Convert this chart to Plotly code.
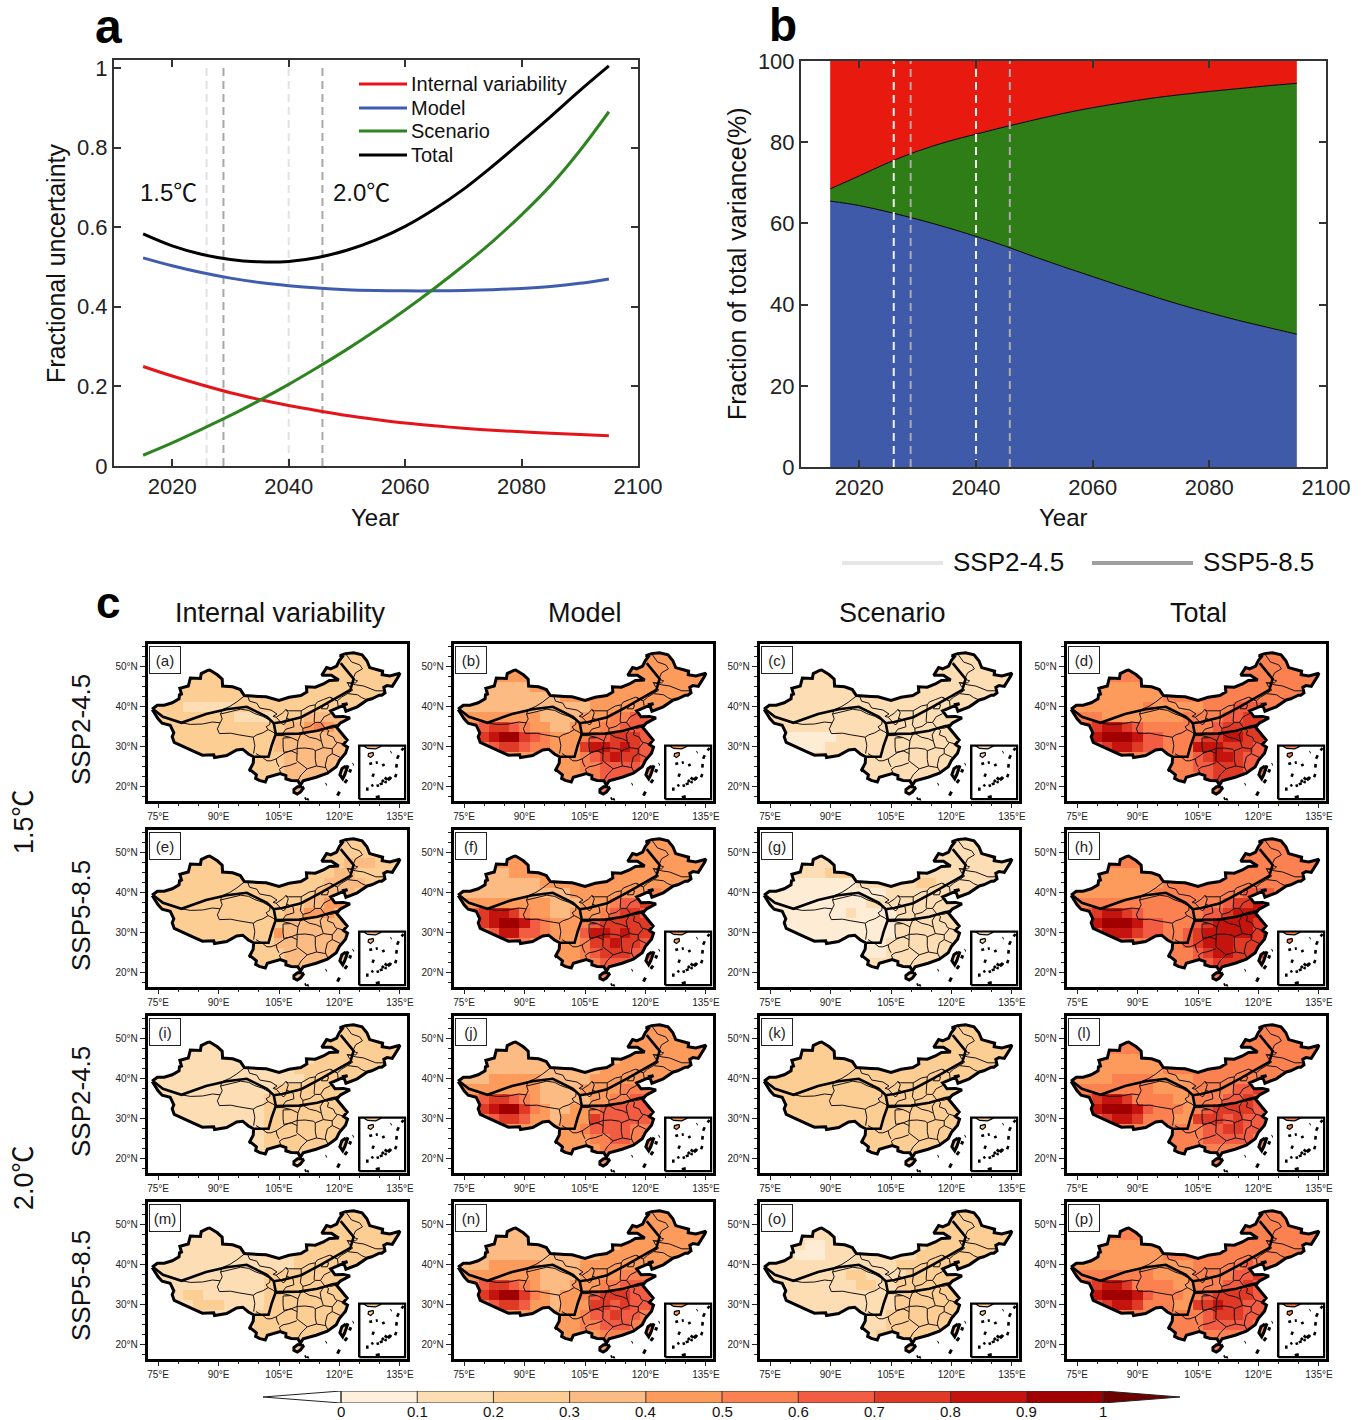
import numpy as np
import plotly.graph_objects as go

FONT = "Liberation Sans, Arial, Noto Sans CJK SC"
W, H = 1364, 1420

# ---------- panels a / b data ----------
YEARS = [2015, 2020, 2025, 2030, 2035, 2040, 2045, 2050, 2055, 2060, 2065, 2070, 2075, 2080, 2085, 2090, 2095]
INTERNAL = [.25, .226, .204, .184, .167, .152, .139, .127, .117, .108, .101, .095, .09, .086, .082, .079, .076]
MODEL = [.523, .503, .486, .472, .461, .453, .447, .443, .441, .44, .44, .441, .443, .446, .451, .459, .47]
SCENARIO = [.027, .058, .092, .127, .165, .205, .248, .293, .341, .392, .446, .503, .564, .631, .705, .792, .89]
TOTAL = [.583, .553, .532, .519, .513, .514, .524, .542, .568, .602, .645, .695, .753, .815, .878, .943, 1.005]
FRAC_MODEL = [65.5, 64.4, 62.8, 61, 59, 56.8, 54.4, 51.8, 49.3, 46.9, 44.5, 42.2, 40, 38, 36.1, 34.4, 32.7]
FRAC_MODEL_SCEN = [68.5, 71.7, 75, 77.8, 80.1, 82, 83.8, 85.5, 87.1, 88.5, 89.7, 90.8, 91.7, 92.5, 93.2, 93.9, 94.5]
FRAC_TOP = [100] * 17
CROSS_SSP245 = [2025.9, 2040.0]
CROSS_SSP585 = [2028.8, 2045.8]

# ---------- colour levels ----------
LEVELS = ['#FEECD4', '#FDDDB4', '#FDCE94', '#FDBB84', '#FC9B5C', '#FC8150', '#F25C42', '#DF3A25', '#C5130E', '#A00000']
CB_COLORS = ['#FEF0DA', '#FDDDB4', '#FDCE94', '#FDBB84', '#FC9B5C', '#FC8150', '#F25C42', '#DF3A25', '#C5130E', '#A00000']
CB_TICKS = [0, .1, .2, .3, .4, .5, .6, .7, .8, .9, 1]
CB_LABELS = ['0', '0.1', '0.2', '0.3', '0.4', '0.5', '0.6', '0.7', '0.8', '0.9', '1']

# ---------- map grids: one digit per 2.5 deg cell, digit d = level d/10..(d+1)/10 ----------
# rows north to south, lat 52.5 ... 20; columns lon 75 ... 135
P_a = """2222222222222222222222222 2222222222222222222222222 2222222222222222222222222 2222222222222222222222222
2222222222222222222222222 2221111122222222222222222 2222222211112223333222222 2222222222222334543222222
2222222222223333333222222 2222222222223333333222222 2222222222222333333222222 2222222222222333332222222
2222222222222333322222222 2222222222223333333222222""".split()
P_b = """4444444444444444444444444 4444444444444444444444444 4444444444444444444444444 4443333444444444444444444
3333333333444444444444444 3333333333333444444444444 4444444433334445566554444 4567765443344455666655555
5578997654445667776655555 4456776554447887876654444 4444444444445678776654444 4444444444445566665544444
4444444444444566654444444 4444444444444455444444444""".split()
P_c = """1111111111111111111111111 1111111111111111111111111 1111111111111111111111111 1111111111111111111111111
1111111111111111111111111 1111111111111111111111111 1111111111111111111111111 1111111111111111111111111
1100000111111111111111111 1100001111111111111111111 1111111111111111111111111 1111111111111111111111111
1111111111111111111111111 1111111111111111111111111""".split()
P_d = """5555555555555555555555555 5555555555555555555555555 5555555555555555555555555 4444444445555555555555555
4444444445555555555555555 4444444544444555666555555 5554444444455556677665555 5678876555555567777766555
6689998665556778877665555 5567887665558887776655555 4555555555556788766655555 5555555555556677766655555
5555555555555677765555555 5555555555555555555555555""".split()
P_e = """2222222222222222222222222 2222222222222222222222222 2222222222222222222333222 2222222222222222223322222
2222222222222222233332222 2222222222222222333322222 2222222222222223344322222 2222222222222334443222222
2222222222222333333222222 2222222222224333333322222 2222222222223333333222222 2222222222222333333222222
2222222222222333332222222 2222222222222333332222222""".split()
P_f = """4444444444444444444444444 4444444444444444444444444 4444444444444444444444444 4433344444444444444444444
3333333344444444444444444 3333333333344444444544444 4444444443334445667665544 4678875443344456776665544
5578998654445677777665544 4456886654446887877765544 4444555444445778776654444 4444444444445677766544444
4444444444445566655444444 4444444444444455444444444""".split()
P_g = """1111111111111111111111111 1111111111111111111111111 1111111111111111111111111 0001112221111111111111111
0000000001111112211111111 0000000000001111111111111 0000000000111111111111111 0000000010000111111111111
0000000000000111111111111 0000000000000111111111111 0000000000001111111111111 0000000000001111111111111
1111111111111111111111111 1111111111111111111111111""".split()
P_h = """5555555555555555555555555 5555555555555555555555555 5555555555555555555555555 4444444445555555555555555
4444444445555555555555555 4444444455555555566655555 5555555555555556778765555 5678876555555667888776555
6789998665556788887776555 5568887665567888887876555 5556665555567888777665555 5555555555556788777665555
5555555555556677765555555 5555555555555555555555555""".split()
P_i = """1111111111111111222222222 1111111111111111222222222 1111111111111111222222222 1111111111111111222222222
1111111111111122222222222 1111111111111112222222222 1111111111112222222222222 1111111111122222222222222
1111111111122222222222222 1111111111122222222222222 1111111111122222222222222 1111111111122222222222222
1111111111122222222222222 1111111111122222222222222""".split()
P_j = """3333333333333333344444444 3333333333333333344444444 3333333333333333344444444 3333333333333333444444444
3333333333333344444444444 3334444433333444444444444 4444444433334444555544444 4567765433333445566554444
5578997543344566666554444 4456776443444766666554444 4444444444445666655544444 4444444444444556655444444
4444444444444455544444444 4444444444444444444444444""".split()
P_k = """2222222222222222222222222 2222222222222222222222222 2222222222222222222222222 2222222222222222222222222
2222222222222222222222222 2222222222222222222222222 2222222222222222222222222 2222222222222222222222222
2222222222222222222222222 2222222222222222222222222 2222222222222222222222222 2222222222222222222222222
2222222222222222222222222 2222222222222222222222222""".split()
P_l = """5555555555555555555555555 5555555555555555555555555 5555555555555555555555555 4444444445555555555555555
4444444445555555555555555 4444555544445555555555555 5555555544445555667655555 5678875555445556676665555
6689998655545677776655555 5567887555447776766655555 5555555555555667766655555 5555555555555666665555555
5555555555555555555555555 5555555555555555555555555""".split()
P_m = """1111111111111111222222222 1111111111111111222222222 1111111111111111222222222 1111111111111111222222222
1111111111111122222222222 1111111111111122222222222 1111111111122222222222222 1111111111122222222222222
1112211111122222222222222 1111222111122222222222222 1111111111222222222222222 1111111111222222222222222
1111111111222222222222222 1111111111222222222222222""".split()
P_n = """3333333333333333344444444 3333333333333333344444444 3333333333333333344444444 3333333333333333444444444
3333333333333344444444444 3334444433334444444444444 4444444433334444555544444 4567765433344455666654444
5578997543445677766554444 4456776443444776766654444 4444444444445667665544444 4444444444445566655444444
4444444444444455544444444 4444444444444444444444444""".split()
P_o = """1111111111111111222222222 1111111111111111222222222 1111111111111111222222222 1111001111111111222222222
1110001111111112222222222 1111111111111222222222222 1111111122111122222222222 1111111112211222222222222
1111111111111222222222222 1111111111111222222222222 1111111111112222222222222 1111111111112222222222222
1111111111122222222222222 1111111111122222222222222""".split()
P_p = """5555555555555555555555555 5555555555555555555555555 5555555555555555555555555 4444444445555555555555555
4444444445555555555555555 4444444444445555565555555 5555555544445555667655555 5678875555445556676665555
6689998655545677776655555 5567887555447787766655555 5555555555555677766655555 5555555555555666665555555
5555555555555555555555555 5555555555555555555555555""".split()

LON_EDGES = [73.0] + [76.25 + 2.5 * k for k in range(24)] + [136.5]
LAT_EDGES = [17.8] + [21.25 + 2.5 * k for k in range(13)] + [54.2]

# ---------- geography (lon, lat) ----------
CHINA = [(73.5,39.4),(74.8,40.4),(76.5,40.4),(78.5,41),(80.2,42),(80.3,43),(80.8,43.2),(80.4,44.6),(82.5,45.2),(83,47.2),(85.5,47.1),
(85.7,48.3),(87.3,49.1),(87.8,49.2),(89.7,48),(90.9,46.9),(91,45.2),(93.5,45),(95.4,44.3),(96.4,42.8),(100,42.6),(101.8,42.5),(105,41.6),
(107.5,42.4),(110.4,42.8),(111.9,43.7),(111.8,45),(114,44.9),(116,45.7),(117.5,46.6),(119.8,46.7),(118,47.9),(115.6,47.9),(116.8,49.8),
(117.8,49.5),(119.3,50.2),(120,51.6),(120.7,52.5),(120.1,52.8),(121.5,53.3),(123.5,53.5),(125.6,53),(126.8,51.5),(127.5,49.8),(130.7,48.9),
(130.6,48),(132.5,47.7),(135,48.4),(134.7,47.7),(133.9,46.3),(133.1,45.1),(131.8,45.3),(131,44.9),(131.3,43.5),(130.5,42.9),(129.9,42.9),
(128,42),(126.9,41.7),(124.4,40),(121.6,38.9),(121,40.6),(122,40.8),(119.5,39.8),(117.8,39),(118.9,37.5),(121,37.6),(122.6,37.2),(120.3,36),
(119.2,35),(120.5,33.5),(121.9,31.7),(121,30.6),(122,29.9),(121.5,28.4),(120,26.6),(119.2,25),(117,23.4),(114.2,22.4),(111,21.5),(110.3,20.4),
(109.7,21.5),(108,21.6),(106.7,22),(106.7,22.8),(105.3,23.3),(102.1,22.4),(101.6,21.2),(100.1,21.6),(99.2,22.1),(99.4,23),(98,24.1),(97.6,24),
(98.6,25.9),(98.7,27.5),(97.4,28.2),(96,29.4),(94.5,29.2),(92,27.8),(89,27.3),(88.8,28),(86,27.9),(84,28.8),(81.2,30.1),(79,31.1),(78.5,32.5),
(78.9,33.5),(78,35.4),(76,35.9),(75,37),(74,38.5),(73.5,39.4)]
HAINAN = [(110.7,20.1),(111,19.6),(110.3,18.7),(109.5,18.2),(108.7,18.6),(108.7,19.3),(109.6,20),(110.7,20.1)]
TAIWAN = [(121.6,25.2),(122,25),(121.3,23),(120.8,22),(120.1,23),(120.6,24.5),(121.6,25.2)]
THICK = [
 [(73.8,39.4),(76.2,37.5),(80.8,36),(86.9,38.2),(92,39.4),(97,40),(102,37.5),(103.7,35.9),(105.8,36.2),(110.5,37.4),(115.3,40),(122.7,44.2),(123.5,47),(120.3,50.9)],
 [(103.7,35.9),(104.2,33.2),(103.2,30.4),(102.4,27.5),(99,27.5)],
 [(104.2,33.2),(110,33.3),(114.5,34),(118.5,35.2),(120,35.4)],
]
PROV = [
 [(96.4,42.7),(94.5,41.2),(92.8,40.1),(90.9,39.3),(90.5,38.2),(90.9,37),(90.4,36)],
 [(80.8,36),(83,35.6),(86,35.7),(88.5,36.2),(90.4,36)],
 [(90.4,36),(89.7,34.5),(90.2,33.3),(93,33.4),(95,33),(97,32.6),(98.6,32.4),(99,30.3),(98.7,28.3)],
 [(90.5,38.2),(93,38.8),(95.5,39.4),(97.5,39.1),(99,38.3),(101,37.6),(102.8,36.6),(102.7,35.6),(101.8,35),(102.3,34.3),(101,33.5),(99.5,33),(98.6,32.4)],
 [(97.2,42.7),(97.7,41.4),(99.5,40.9),(100.2,39.7),(103,39.2),(104.5,38.2),(103.5,37.6),(104.3,37.4)],
 [(104.3,37.4),(105.8,38.4),(106.7,39.3),(107.3,38.5),(106.9,37.2),(106.5,35.8),(106,35.5),(105.4,36.2),(104.3,37.4)],
 [(106.9,37.2),(108.5,36.4),(108.7,35),(106.7,34.4),(105.7,33),(104.4,32.8)],
 [(102.3,34.3),(103.5,33.7),(104.4,32.8)],
 [(106.7,39.3),(107.3,39),(110.5,39),(111.3,39.5),(112.5,40.2),(114,40.5),(114.5,41.2),(116,41.8),(117.5,42.4),(119.5,41.5),(120.5,42.4),(122,43.3),(123.3,44.2),(122.5,45),(122,46),(124,46),(124.5,46.5),(123.3,46.9),(124,48.5),(125.7,49.5),(125,50.5),(123,51.2),(122.3,52.3),(121.5,53.3)],
 [(121.8,46.1),(124,45.5),(126,45.2),(127.5,44.6),(129,44),(131,44)],
 [(122,43.3),(124.5,43),(125.5,42.3),(126.9,41.7)],
 [(117.8,42.4),(119.5,41.4),(119.7,39.9)],
 [(110.5,39),(110.5,37),(110.3,35.5),(110.9,34.6)],
 [(114,40.5),(113.8,38.5),(113.6,37),(113.7,36.3),(114,36.1)],
 [(110.9,34.6),(112.7,35.1),(114,36.1),(115.3,36.1),(116.2,37.5),(117.8,38.3)],
 [(115.5,39.5),(116.3,40.7),(117.3,40.5),(117,39.5),(115.5,39.5)],
 [(115.3,36.1),(116,35),(116.3,34.8),(118,34.6),(119.2,35)],
 [(110.9,34.6),(111,33.3),(112.5,32.4),(114.3,32),(115.5,31.4),(115.2,33),(116.3,34.8)],
 [(116.3,34.8),(117.3,34.1),(117,33),(118.5,32.4),(119,31.3),(119.5,31.1),(121,30.7)],
 [(119.5,31.1),(118.2,29.5),(118.2,28.3),(120.3,27.3)],
 [(115.5,31.4),(116,29.8),(118.2,29.5)],
 [(109.5,29.6),(111.5,29.7),(113.5,29.4),(114,29),(116,29.8)],
 [(114,29),(114,26.8),(114.3,25.2)],
 [(118.2,28.3),(117,27.5),(116.5,25.5),(116.6,24.8)],
 [(109.7,21.6),(110.5,23),(112,24.5),(114.3,25.2),(116,24.9),(116.6,24.8),(117.2,23.6)],
 [(112,24.5),(111,25.2),(110,26.1),(109.4,26.5),(109.5,28.5),(109.5,29.6)],
 [(109.4,26),(107.5,25.3),(106,25),(105.1,24.4),(105.5,23.3)],
 [(109.5,28.3),(108,29),(106.5,28.5),(105.5,27.8),(104.3,27),(104.5,26),(105,25)],
 [(104.3,27),(103,26.5),(102,26.5),(101,27.3),(99.3,28.3)],
 [(106,32.2),(108,32.3),(109.7,31.5),(109.5,29.6),(108,29),(106.2,28.6),(106,30),(106,32.2)],
 [(104.4,32.8),(106,32.8),(108,32.3)],
 [(109.7,31.5),(110.3,33),(111,33.3)],
]
ISLANDS = [[(119.5,17.8),(120,18.8)],[(121.3,21),(121.9,21.8)],[(116.6,20.6),(116.8,20.7)],[(123.3,25.6),(123.5,25.7)],
           [(122.5,23.6),(122.8,24.4)],[(111.4,16.9),(111.8,17.1)],[(112,16.7),(112.4,16.9)]]
INSET_BOX = [(124.9,16.9),(136.3,16.9),(136.3,30.3),(124.9,30.3),(124.9,16.9)]
INSET_COAST = [(126,30.2),(130.5,30.2),(129,29.5),(127,29.6),(126,30.2)]
INSET_HAINAN = [(128.4,28.6),(128.4,27.9),(127.7,27.3),(127.1,27.7),(127.2,28.3),(128.4,28.6)]
INSET_DASHES = [[(127.4,25.7),(128.1,25.9)],[(130.6,25.3),(131.2,25.6)],[(129,26),(129.5,26.1)],[(132.7,28.6),(132.9,28.7)],
 [(135.4,29.1),(135.9,29.7)],[(134.3,27),(134.7,27.9)],[(134.1,24.8),(134.2,25.7)],[(128.2,22.5),(128.5,23.3)],[(133.8,22.4),(134.1,23.2)],
 [(126.9,19),(126.9,19.8)],[(127.9,20.2),(128.4,20.5)],[(129,17.4),(130,17.6)],[(131.2,22.3),(131.9,21.8)],[(131.9,22.2),(132.5,21.6)],
 [(132.3,22.4),(132.9,22)],[(130.5,21.2),(131,21.7)],[(130,20.6),(130.7,20.9)],[(129.2,20.2),(129.8,20.4)],[(131.3,20.9),(131.6,21.4)]]

COL_TITLES = ['Internal variability', 'Model', 'Scenario', 'Total']
ROW_TITLES = ['SSP2-4.5', 'SSP5-8.5', 'SSP2-4.5', 'SSP5-8.5']
GRIDS = [P_a, P_b, P_c, P_d, P_e, P_f, P_g, P_h, P_i, P_j, P_k, P_l, P_m, P_n, P_o, P_p]
LETTERS = list('abcdefghijklmnop')
LON_TICKS = [75, 90, 105, 120, 135]
LAT_TICKS = [20, 30, 40, 50]

# ---------- layout helpers ----------
def dx(p): return p / W
def dy(p): return 1 - p / H

def path(polys):
    xs, ys = [], []
    for poly in polys:
        xs += [p[0] for p in poly] + [None]
        ys += [p[1] for p in poly] + [None]
    return xs, ys

def discrete(colors):
    out = []
    for i, c in enumerate(colors):
        out += [[i / 10, c], [(i + 1) / 10, c]]
    return out

colorscale = discrete(LEVELS)
fig = go.Figure()
layout = {}
shapes, annos = [], []

def text(x, y, s, size, angle=0, bold=False, anchor='center', color='#111'):
    annos.append(dict(xref='paper', yref='paper', x=dx(x), y=dy(y), text=f'<b>{s}</b>' if bold else s, showarrow=False,
                      font=dict(family=FONT, size=size, color=color), textangle=angle, xanchor=anchor, yanchor='middle'))

def main_axes(n, x0, y0, x1, y1, ytickv, ytickt, yrange):
    base = dict(showline=True, mirror='ticks', linecolor='#333', linewidth=2, ticks='inside', ticklen=7, tickcolor='#333', tickwidth=2,
                showgrid=False, zeroline=False, tickfont=dict(family=FONT, size=22, color='#222'))
    layout[f'xaxis{n}'] = dict(base, domain=[dx(x0), dx(x1)], range=[2010, 2100], anchor=f'y{n}', tickvals=[2020, 2040, 2060, 2080, 2100])
    layout[f'yaxis{n}'] = dict(base, domain=[dy(y1), dy(y0)], range=yrange, anchor=f'x{n}', tickvals=ytickv, ticktext=ytickt)

# panel a
main_axes(1, 114, 60, 638, 466, [0, .2, .4, .6, .8, 1], ['0', '0.2', '0.4', '0.6', '0.8', '1'], [0, 1.02])
for xs, c in [(CROSS_SSP245, '#E2E2E2'), (CROSS_SSP585, '#A8A8A8')]:
    for xv in xs:
        fig.add_trace(go.Scatter(x=[xv, xv], y=[0, 1], mode='lines', line=dict(color=c, width=2, dash='8px,5px'), xaxis='x', yaxis='y', hoverinfo='skip'))
for vals, c in [(INTERNAL, '#E5141B'), (MODEL, '#3F5CAE'), (SCENARIO, '#2E8420'), (TOTAL, '#000000')]:
    fig.add_trace(go.Scatter(x=YEARS, y=vals, mode='lines', line=dict(color=c, width=3, shape='spline'), xaxis='x', yaxis='y', hoverinfo='skip'))
for y, c, s in [(84, '#E5141B', 'Internal variability'), (108, '#3F5CAE', 'Model'), (131, '#2E8420', 'Scenario'), (155, '#000000', 'Total')]:
    shapes.append(dict(type='line', xref='paper', yref='paper', x0=dx(359), x1=dx(407), y0=dy(y), y1=dy(y), line=dict(color=c, width=3)))
    text(409, y, s, 20, anchor='left')
text(168, 192, '1.5℃', 24)
text(361, 192, '2.0℃', 24)
text(376, 517, 'Year', 24)
text(56, 263, 'Fractional uncertainty', 25, angle=-90)

# panel b
main_axes(2, 801, 61, 1326, 467, [0, 20, 40, 60, 80, 100], ['0', '20', '40', '60', '80', '100'], [0, 100])
fig.add_trace(go.Scatter(x=YEARS, y=FRAC_MODEL, mode='lines', line=dict(color='#000', width=1, shape='spline'), fill='tozeroy', fillcolor='#3E5AA9', xaxis='x2', yaxis='y2', hoverinfo='skip'))
fig.add_trace(go.Scatter(x=YEARS, y=FRAC_MODEL_SCEN, mode='lines', line=dict(color='#000', width=1, shape='spline'), fill='tonexty', fillcolor='#2E7D17', xaxis='x2', yaxis='y2', hoverinfo='skip'))
fig.add_trace(go.Scatter(x=YEARS, y=FRAC_TOP, mode='lines', line=dict(color='#E81A10', width=0), fill='tonexty', fillcolor='#E81A10', xaxis='x2', yaxis='y2', hoverinfo='skip'))
for xs, c in [(CROSS_SSP245, '#F2F2F2'), (CROSS_SSP585, '#ABABAB')]:
    for xv in xs:
        fig.add_trace(go.Scatter(x=[xv, xv], y=[0, 100], mode='lines', line=dict(color=c, width=2, dash='8px,5px'), xaxis='x2', yaxis='y2', hoverinfo='skip'))
text(1063, 518, 'Year', 24)
text(737, 264, 'Fraction of total variance(%)', 25, angle=-90)
for x0, x1, c, s, tx_ in [(842, 943, '#E6E6E6', 'SSP2-4.5', 951), (1092, 1193, '#A0A0A0', 'SSP5-8.5', 1201)]:
    shapes.append(dict(type='line', xref='paper', yref='paper', x0=dx(x0), x1=dx(x1), y0=dy(563), y1=dy(563), line=dict(color=c, width=4)))
    text(tx_, 562, s, 26, anchor='left')

text(108, 27, 'a', 48, bold=True, color='#000')
text(783, 25, 'b', 46, bold=True, color='#000')
text(108, 602, 'c', 44, bold=True, color='#000')

for cx, s in zip([280, 585, 892, 1198], COL_TITLES):
    text(cx, 613, s, 27)
for cy, s in zip([730, 916, 1102, 1286], ROW_TITLES):
    text(81, cy, s, 26, angle=-90)
text(24, 822, '1.5℃', 27, angle=-90)
text(24, 1178, '2.0℃', 27, angle=-90)

# maps
COL_X = [146, 452, 758, 1065]
ROW_Y = [642, 828, 1014, 1200]
MAP_W, MAP_H = 262, 160
INS = 1.5
mask_x, mask_y = path([[(72, 16.2), (137, 16.2), (137, 56.2), (72, 56.2), (72, 16.2)], CHINA, HAINAN, TAIWAN])
px, py = path(PROV)
tx, ty = path(THICK)
bx, by = path([CHINA, HAINAN, TAIWAN] + ISLANDS)
ix, iy = path(INSET_DASHES)
ibx, iby = path([INSET_BOX])
icx, icy = path([INSET_COAST, INSET_HAINAN])

for k, grid in enumerate(GRIDS):
    n = k + 3
    r, c = k // 4, k % 4
    x0, y0 = COL_X[c], ROW_Y[r]
    ax = dict(showline=True, mirror=True, linecolor='#000', linewidth=2.5, ticks='outside', tickcolor='#222', tickwidth=1, ticklen=5,
              showgrid=False, zeroline=False, tickfont=dict(family=FONT, size=10, color='#222'), layer='above traces')
    layout[f'xaxis{n}'] = dict(ax, domain=[dx(x0 + INS), dx(x0 + MAP_W - INS)], range=[72 + INS * 65 / MAP_W, 137 - INS * 65 / MAP_W], anchor=f'y{n}', tickvals=LON_TICKS,
                               ticktext=[f'{v}°E' for v in LON_TICKS], minor=dict(tickvals=list(range(75, 136, 5)), ticks='outside', ticklen=3, tickcolor='#222'))
    layout[f'yaxis{n}'] = dict(ax, domain=[dy(y0 + MAP_H - INS), dy(y0 + INS)], range=[16.2 + INS * 40 / MAP_H, 56.2 - INS * 40 / MAP_H], anchor=f'x{n}', tickvals=LAT_TICKS,
                               ticktext=[f'{v}°N' for v in LAT_TICKS], minor=dict(tickvals=[17.5 + 2.5 * j for j in range(16)], ticks='outside', ticklen=3, tickcolor='#222'))
    xa, ya = f'x{n}', f'y{n}'
    z = np.array([[(int(ch) + 0.5) / 10 for ch in row[:25].ljust(25, row[-1])] for row in grid[::-1]])
    fig.add_trace(go.Heatmap(x=LON_EDGES, y=LAT_EDGES, z=z, zmin=0, zmax=1, colorscale=colorscale, showscale=False, hoverinfo='skip', xaxis=xa, yaxis=ya))
    fig.add_trace(go.Scatter(x=mask_x, y=mask_y, mode='none', fill='toself', fillcolor='white', xaxis=xa, yaxis=ya, hoverinfo='skip'))
    fig.add_trace(go.Scatter(x=px, y=py, mode='lines', line=dict(color='#111', width=1), xaxis=xa, yaxis=ya, hoverinfo='skip'))
    fig.add_trace(go.Scatter(x=tx, y=ty, mode='lines', line=dict(color='#000', width=2.6), xaxis=xa, yaxis=ya, hoverinfo='skip'))
    fig.add_trace(go.Scatter(x=bx, y=by, mode='lines', line=dict(color='#000', width=3), xaxis=xa, yaxis=ya, hoverinfo='skip'))
    fig.add_trace(go.Scatter(x=ibx, y=iby, mode='lines', fill='toself', fillcolor='white', line=dict(color='#000', width=2.4), xaxis=xa, yaxis=ya, hoverinfo='skip'))
    base_level = LEVELS[int(grid[-1][13])]
    fig.add_trace(go.Scatter(x=icx, y=icy, mode='lines', fill='toself', fillcolor=base_level, line=dict(color='#000', width=1.2), xaxis=xa, yaxis=ya, hoverinfo='skip'))
    fig.add_trace(go.Scatter(x=ix, y=iy, mode='lines', line=dict(color='#000', width=2.6), xaxis=xa, yaxis=ya, hoverinfo='skip'))
    annos.append(dict(xref='paper', yref='paper', x=dx(x0 + 3), y=dy(y0 + 4), xanchor='left', yanchor='top', text=f'({LETTERS[k]})', showarrow=False,
                      font=dict(family=FONT, size=15, color='#222'), bgcolor='white', bordercolor='#222', borderwidth=1, width=28, height=24, align='center'))

# colour bar
nb = 19
layout[f'xaxis{nb}'] = dict(domain=[dx(263), dx(1180)], range=[-0.1024, 1.1010], anchor=f'y{nb}', showgrid=False, zeroline=False, showline=False,
                            tickvals=CB_TICKS, ticks='', showticklabels=False)
layout[f'yaxis{nb}'] = dict(domain=[dy(1403), dy(1391)], range=[0, 1], anchor=f'x{nb}', visible=False)
fig.add_trace(go.Heatmap(x=CB_TICKS, y=[0, 1], z=[[(i + .5) / 10 for i in range(10)]], zmin=0, zmax=1, colorscale=discrete(CB_COLORS), showscale=False, hoverinfo='skip', xaxis=f'x{nb}', yaxis=f'y{nb}'))
fig.add_trace(go.Scatter(x=[-0.1024, 0, 0, -0.1024], y=[.5, 1, 0, .5], mode='lines', fill='toself', fillcolor='white', line=dict(color='#222', width=1), xaxis=f'x{nb}', yaxis=f'y{nb}', hoverinfo='skip'))
fig.add_trace(go.Scatter(x=[1.101, 1, 1, 1.101], y=[.5, 1, 0, .5], mode='lines', fill='toself', fillcolor='#6E0000', line=dict(color='#222', width=1), xaxis=f'x{nb}', yaxis=f'y{nb}', hoverinfo='skip'))
sepx, sepy = path([[(t, 0), (t, 1)] for t in CB_TICKS] + [[(0, 0), (1, 0)], [(0, 1), (1, 1)]])
fig.add_trace(go.Scatter(x=sepx, y=sepy, mode='lines', line=dict(color='#333', width=1), xaxis=f'x{nb}', yaxis=f'y{nb}', hoverinfo='skip'))
for t, s in zip(CB_TICKS, CB_LABELS):
    annos.append(dict(xref=f'x{nb}', yref='paper', x=t, y=dy(1411.5), xanchor='center', yanchor='middle', text=s, showarrow=False,
                      font=dict(family=FONT, size=15, color='#111'), borderpad=0))

fig.update_layout(width=W, height=H, autosize=False, margin=dict(l=0, r=0, t=0, b=0, pad=0, autoexpand=False), paper_bgcolor='white', plot_bgcolor='white',
                  showlegend=False, shapes=shapes, annotations=annos, **layout)
fig.write_html("out.html", config=dict(displayModeBar=False),
               post_script="document.body.style.margin='0';document.documentElement.style.overflow='hidden';")
